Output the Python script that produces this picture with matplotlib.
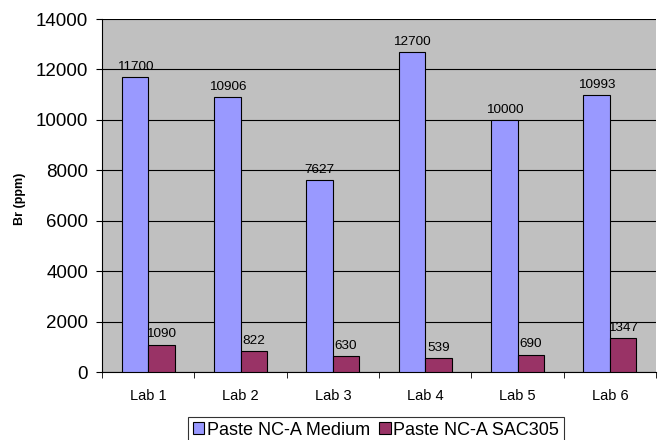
import numpy as np
import matplotlib
matplotlib.use("Agg")
import matplotlib.pyplot as plt

plt.rcParams['font.family'] = ['Liberation Sans', 'DejaVu Sans']

labs = ["Lab 1", "Lab 2", "Lab 3", "Lab 4", "Lab 5", "Lab 6"]
medium = [11700, 10906, 7627, 12700, 10000, 10993]
sac305 = [1090, 822, 630, 539, 690, 1347]
series_names = ["Paste NC-A Medium", "Paste NC-A SAC305"]

fig = plt.figure(figsize=(6.63, 4.40), dpi=100)
# plot area ~ x 102..656, y 19..372 px
ax = fig.add_axes([102 / 663, 1 - 372 / 440, 554 / 663, 353 / 440])
ax.set_facecolor('#C0C0C0')

x = np.arange(len(labs))
w = 1 / 3.5
b1 = ax.bar(x - w / 2, medium, w, color='#9999FF', edgecolor='black', linewidth=0.8,
            label=series_names[0], zorder=3)
b2 = ax.bar(x + w / 2, sac305, w, color='#993366', edgecolor='black', linewidth=0.8,
            label=series_names[1], zorder=3)

# value labels above bars
for rect, v in zip(list(b1) + list(b2), medium + sac305):
    ax.annotate(str(v), (rect.get_x() + rect.get_width() / 2, v),
                xytext=(0, 3), textcoords='offset points',
                ha='center', va='bottom', fontsize=9.7, zorder=4)

ax.set_xlim(-0.5, len(labs) - 0.5)
ax.set_ylim(0, 14000)
ax.set_yticks(np.arange(0, 14001, 2000))
ax.yaxis.grid(True, color='black', linewidth=0.8, zorder=1)
ax.set_axisbelow(True)

ax.set_xticks(x)
ax.set_xticklabels(labs, fontsize=10.5)
ax.tick_params(axis='x', length=0, pad=12)
ax.set_xticks(np.arange(-0.5, len(labs), 1), minor=True)
ax.tick_params(axis='x', which='minor', length=4, direction='out')
ax.tick_params(axis='y', labelsize=13.5, length=4, direction='out', pad=6)

for s in ['top', 'right']:
    ax.spines[s].set_visible(False)

fig.text(20 / 663, 1 - 199 / 440, 'Br (ppm)', rotation=90, ha='center', va='center',
         fontsize=9, fontweight='bold')

leg = fig.legend(loc='upper center', bbox_to_anchor=(376 / 663, 1 - 417 / 440), ncol=2,
                 fontsize=13, frameon=True, fancybox=False, edgecolor='black',
                 handlelength=0.63, handleheight=0.63, handletextpad=0.15,
                 columnspacing=0.5, borderpad=0.25, borderaxespad=0)
leg.get_frame().set_linewidth(0.8)

fig.savefig('out.png', dpi=100)
